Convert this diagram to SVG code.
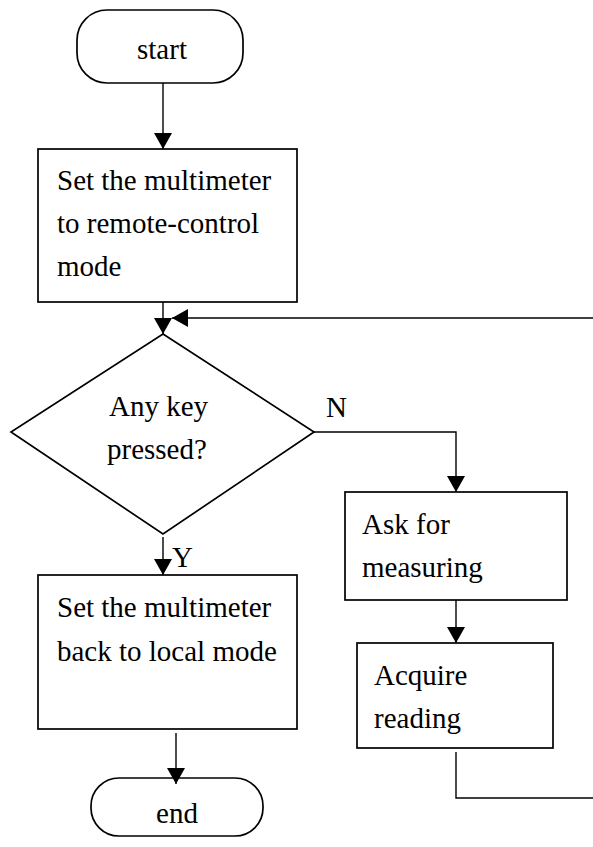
<svg xmlns="http://www.w3.org/2000/svg" width="593" height="847" viewBox="0 0 593 847">
<style>
.shape{fill:#fff;stroke:#000;stroke-width:1.7}
.conn{fill:none;stroke:#000;stroke-width:1.4}
text{font-family:"Liberation Serif","Times New Roman",serif;font-size:29px;fill:#000}
.c{text-anchor:middle}
</style>
<defs>
<marker id="arrow" viewBox="0 0 16 18" refX="16" refY="9" markerWidth="16" markerHeight="18" markerUnits="userSpaceOnUse" orient="auto">
<path d="M0,0 L16,9 L0,18 Z" fill="#000"/>
</marker>
</defs>
<rect width="593" height="847" fill="#fff"/>
<g id="start">
<rect class="shape" x="77" y="10" width="166" height="73" rx="30" ry="30"/>
<text class="c" x="162" y="59">start</text>
</g>
<g id="set-remote">
<rect class="shape" x="38" y="149" width="259" height="153"/>
<text x="57" y="190">Set the multimeter</text>
<text x="57" y="233">to remote-control</text>
<text x="57" y="276">mode</text>
</g>
<g id="decision">
<polygon class="shape" points="163,334 314,432 163,534 11,432"/>
<text x="109" y="416">Any key</text>
<text x="107" y="459">pressed?</text>
</g>
<g id="ask">
<rect class="shape" x="345" y="492" width="222" height="108"/>
<text x="362" y="534">Ask for</text>
<text x="362" y="577">measuring</text>
</g>
<g id="acquire">
<rect class="shape" x="357" y="643" width="196" height="105"/>
<text x="374" y="685">Acquire</text>
<text x="374" y="728">reading</text>
</g>
<g id="set-local">
<rect class="shape" x="38" y="575" width="259" height="154"/>
<text x="57" y="617">Set the multimeter</text>
<text x="57" y="661">back to local mode</text>
</g>
<g id="end">
<rect class="shape" x="91" y="778" width="172" height="58" rx="28" ry="28"/>
<text class="c" x="177" y="823">end</text>
</g>
<g id="connectors">
<path class="conn" d="M163,83 V149" marker-end="url(#arrow)"/>
<path class="conn" d="M163,302 V334" marker-end="url(#arrow)"/>
<path class="conn" d="M593,318 H172" marker-end="url(#arrow)"/>
<path class="conn" d="M314,432 H456 V492" marker-end="url(#arrow)"/>
<path class="conn" d="M456,600 V643" marker-end="url(#arrow)"/>
<path class="conn" d="M456,752 V798 H593"/>
<path class="conn" d="M163,537 V575" marker-end="url(#arrow)"/>
<path class="conn" d="M176,733 V784" marker-end="url(#arrow)"/>
<text x="326" y="417">N</text>
<text x="172" y="567">Y</text>
</g>
</svg>
